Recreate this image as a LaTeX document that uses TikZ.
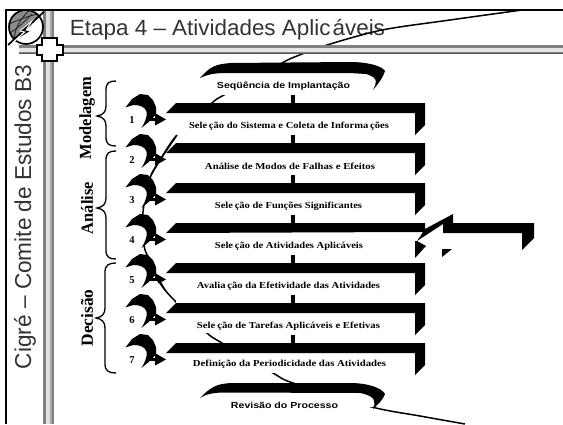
\documentclass[tikz,border=0pt]{standalone}
\usepackage{fontspec}
\usepackage{graphicx}
\setmainfont{Liberation Serif}
\newfontfamily\boldsans{Liberation Sans}
\newcommand\fitw[2]{\resizebox{#1}{\height}{#2}}
\newcommand\stepfont{\fontsize{9.2}{10}\selectfont\bfseries}
\newcommand\sidefont{\fontsize{17}{18}\selectfont\bfseries}
\newcommand\capfont{\boldsans\fontsize{8.8}{10}\selectfont\bfseries}
\newcommand\lightfont[1]{\boldsans\fontsize{#1}{#1}\selectfont}
\tikzset{
  blk/.style={fill=black,draw=none},
  steptext/.style={inner sep=0pt,anchor=center,text=black},
  sidetext/.style={inner sep=0pt,anchor=center,rotate=90},
  numtext/.style={inner sep=0pt,anchor=center},
  bigcurve/.style={line width=1.5pt,black},
  bracel/.style={line width=1.3pt,black},
  link/.style={line width=4pt,black},
}
\begin{document}
\begin{tikzpicture}[x=1pt,y=-1pt]
\useasboundingbox (0,0) rectangle (563,424);
\fill[white] (0,0) rectangle (563,424);
% title and side texts
\node[inner sep=0pt,anchor=center,text=black!80] (title) at (227.5,30) {\lightfont{22}\fitw{315pt}{Etapa 4 – Atividades Aplic\kern2pt áveis}};
\node[inner sep=0pt,anchor=center,rotate=90,text=black!80] (side) at (25,217) {\lightfont{23}\fitw{304pt}{Cigré – Comite de Estudos B3}};
% the long curve that passes behind the diagram
\draw[bigcurve] plot[smooth,tension=0.5] coordinates {(522,10) (450,20) (382,30) (327,45) (297,56) (282,63) (224,95) (212,103) (177,135) (160,160) (150,178) (143,212) (144,245) (148,257) (155,275) (165,290) (177,303) (207,333) (222,343) (273,373) (293,383) (372,407) (420,416) (465,424)};
% frame bars
\fill[black!50] (43,10) rectangle (54,424);
\fill[black!12] (46,10) rectangle (50,424);
\fill[black!35] (50,10) rectangle (52,424);
\fill[black!50] (19,45) rectangle (563,54);
\fill[black!10] (19,48) rectangle (563,51.5);
\fill[black!65] (19,52.5) rectangle (563,54);
\draw[line width=2pt] (6,424) -- (6,10) -- (563,10);
% logo
\begin{scope}
  \clip (7,11) rectangle (44,46);
  \fill[white] (26,27) circle (17);
  \begin{scope}
    \clip (8,45) -- (48,8) -- (0,0) -- cycle;
    \fill[black!45] (26,27) circle (17);
    \draw[line width=.9pt,black!85] (20,10) arc (150:240:22);
    \draw[line width=.9pt,black!85] (30,10) .. controls (18,20) and (14,32) .. (14,42);
    \draw[line width=.9pt,black!85] (9,24) .. controls (18,20) and (28,16) .. (38,14);
    \draw[line width=.9pt,black!85] (10,33) .. controls (18,28) and (24,22) .. (32,14);
  \end{scope}
  \draw[line width=1.7pt] (26,27) circle (17);
  \draw[line width=1.7pt] (8,45) -- (48,8);
  \draw[blk,draw=white,line width=.8pt] (32,21) -- (20,31) -- (25,32) -- (13,42) -- (31,31) -- (26,30) -- cycle;
\end{scope}
% cross
\draw[fill=white,line width=1.5pt] (42,38) -- (57,38) -- (57,45) -- (63,45) -- (63,55) -- (57,55) -- (57,61) -- (42,61) -- (42,55) -- (37,55) -- (37,45) -- (42,45) -- cycle;
% white text bands that hide the curve
\foreach \y/\h in {103/40,143/40,183/40,223/40,263/40,303/30,343/30}
  \fill[white] (176,\y) rectangle (415,\y+\h);
\fill[white] (195,70) rectangle (378,95);
\fill[white] (195,388) rectangle (373,407);
% top arc
\fill[black] (200,78) .. controls (206,72) and (210,66) .. (222,64) -- (230,63) -- (350,62) .. controls (368,62) and (382,66) .. (385,71) .. controls (383,78) and (378,84) .. (373,90) .. controls (376,84) and (380,78) .. (366,74) -- (350,73) -- (225,73) .. controls (214,73) and (206,75) .. (200,78) -- cycle;
% bottom arc
\fill[black] (200,398) .. controls (206,392) and (212,386) .. (222,384) -- (230,383) -- (350,383) .. controls (368,383) and (382,388) .. (385,394) .. controls (383,400) and (378,404) .. (373,409) .. controls (376,402) and (376,396) .. (360,393) -- (225,392.5) .. controls (214,392.5) and (206,394) .. (200,398) -- cycle;
% seven steps
\foreach \n/\t in {1/103,2/143,3/183,4/223,5/263,6/303,7/343}{
  \pgfmathsetmacro\d{\t-103}
  \begin{scope}[yshift=-\d pt]
    % white backing of the number
    \fill[white] (122,105) -- (140,102) -- (150,108) -- (148,118) -- (142,127) -- (122,127) -- cycle;
    % crescent
    \fill[black] (125.5,107.5) -- (132,99) -- (140,94) -- (148,95) -- (153,100) -- (156,107) -- (156,114) -- (151,120) -- (141.5,128) .. controls (145.5,121) and (147.5,116) .. (146.5,111.5) .. controls (145,107) and (140,105) .. (134,105) .. controls (131,105.5) and (128,106.5) .. (125.5,107.5) -- cycle;
    % arrow
    \fill[black] (148,118) rectangle (156,121);
    \fill[black] (155,113) -- (166,119.5) -- (155,125.5) -- cycle;
  \end{scope}
  \coordinate (bar\n) at (293,\t);
  \coordinate (stem\n) at (293,\t-8);
  \draw[link] (stem\n) -- (bar\n);
}
% bars with legs
\foreach \t in {103,143,183,263,303,343}{
  \fill[black] (166,\t+10) -- (176,\t) -- (425,\t) -- (425,\t+22) -- (415,\t+32) -- (415,\t+10) -- cycle;
}
% bar 4, broken
\fill[black] (166,233) -- (176,223) -- (425,223) -- (425,232) -- (415,232) -- (166,233) -- cycle;
\fill[black] (415,241) -- (417,241) -- (426,246) -- (415,258) -- cycle;
\fill[black] (417,241) -- (425,229) -- (453,214) -- (453,223) -- (443,224) -- cycle;
\fill[black] (443,223) -- (534,223) -- (534,238) -- (522,250) -- (522,233) -- (443,233) -- cycle;
\fill[black] (442,257) -- (442,249) -- (452,249) -- cycle;
% curve in front of arrows 2 and 5
\draw[bigcurve] (177,135) -- (160,160) -- (151,175);
\fill[white] (150,281) -- (157,281) -- (165,294) -- (155,286) -- cycle;
\draw[bigcurve] (155,273) -- (165,290);
% step labels
\node[steptext] (s1) at (289,126) {\stepfont\fitw{200pt}{Sele\kern1.5pt ção do Sistema e Coleta de Informa\kern1.5pt ções}};
\node[steptext] (s2) at (290,166) {\stepfont\fitw{170pt}{Análise de Modos de Falhas e Efeitos}};
\node[steptext] (s3) at (288.5,206) {\stepfont\fitw{147pt}{Sele\kern1.5pt ção de Funções Significantes}};
\node[steptext] (s4) at (289,246) {\stepfont\fitw{148pt}{Sele\kern1.5pt ção de Atividades Aplicáveis}};
\node[steptext] (s5) at (288.5,286) {\stepfont\fitw{183pt}{Avalia\kern1.5pt ção da Efetividade das Atividades}};
\node[steptext] (s6) at (288.5,326) {\stepfont\fitw{183pt}{Sele\kern1.5pt ção de Tarefas Aplicáveis e Efetivas}};
\node[steptext] (s7) at (289.5,364) {\stepfont\fitw{193pt}{Definição da Periodicidade das Atividades}};
\node[steptext] (top) at (283.5,86) {\capfont\fitw{133pt}{Seqüência de Implantação}};
\node[steptext] (bot) at (284.5,405) {\capfont\fitw{107pt}{Revisão do Processo}};
% numbers
\foreach \n/\y in {1/120,2/160,3/200,4/240,5/280,6/320,7/360}
  \node[numtext] (n\n) at (132,\y) {\fontsize{10.5}{11}\selectfont\bfseries\n};
% group labels
\node[sidetext] (g1) at (87,118) {\sidefont\fitw{82pt}{Modelagem}};
\node[sidetext] (g2) at (87,208) {\sidefont\fitw{52pt}{Análise}};
\node[sidetext] (g3) at (87,318) {\sidefont\fitw{57pt}{Decisão}};
% braces
\draw[bracel] (116,81) .. controls (109,81) and (106,83) .. (106,90) -- (106,106) .. controls (106,112) and (103,115) .. (97,116) .. controls (103,117) and (106,120) .. (106,126) -- (106,137) .. controls (106,144) and (109,146) .. (116,146);
\draw[bracel] (116,151) .. controls (109,151) and (106,153) .. (106,160) -- (106,198) .. controls (106,204) and (103,207) .. (97,208) .. controls (103,209) and (106,212) .. (106,218) -- (106,250) .. controls (106,257) and (109,259) .. (116,259);
\draw[bracel] (116,263) .. controls (109,263) and (105,265) .. (105,272) -- (105,308) .. controls (105,314) and (102,317) .. (96,318) .. controls (102,319) and (105,322) .. (105,328) -- (105,364) .. controls (105,371) and (109,373) .. (116,373);
\end{tikzpicture}
\end{document}
